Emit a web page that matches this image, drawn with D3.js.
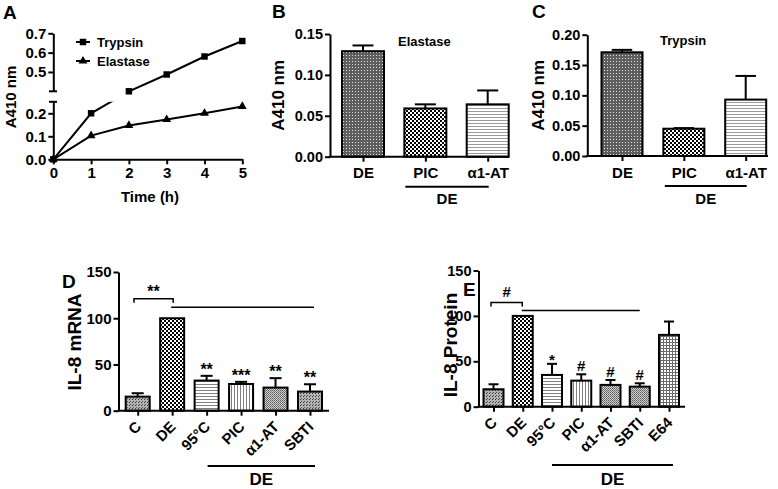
<!DOCTYPE html>
<html><head><meta charset="utf-8">
<script src="https://cdn.jsdelivr.net/npm/d3@7"></script>
<style>
html,body{margin:0;padding:0;background:#fff;}
svg{display:block;}
</style></head><body>
<svg id="chart" width="778" height="489"></svg>
<script>
// ---------------- DATA ----------------
// Panel A: time course
const timeH = [0, 1, 2, 3, 4, 5];
const trypsinA410 = [0, 0.20, 0.40, 0.487, 0.58, 0.66];
const elastaseA410 = [0, 0.103, 0.147, 0.173, 0.20, 0.23];
const seriesNames = ["Trypsin", "Elastase"];
const aYTicksLow = [0, 0.1, 0.2];
const aYTicksHigh = [0.5, 0.6, 0.7];
const aXTicks = [0, 1, 2, 3, 4, 5];

// Panels B & C
const bcCats = ["DE", "PIC", "α1-AT"];
const elastaseMean = [0.129, 0.059, 0.064];
const elastaseSem = [0.007, 0.005, 0.017];
const trypsinMean = [0.171, 0.045, 0.093];
const trypsinSem = [0.004, 0.001, 0.039];
const bYTicks = [0, 0.05, 0.10, 0.15];
const cYTicks = [0, 0.05, 0.10, 0.15, 0.20];

// Panel D
const dCats = ["C", "DE", "95°C", "PIC", "α1-AT", "SBTI"];
const il8mRNA = [15.2, 100, 32.6, 28.9, 25.0, 20.7];
const il8mRNASem = [3.7, 0, 5.1, 2.3, 10.2, 7.9];
const dSig = ["", "", "**", "***", "**", "**"];

// Panel E
const eCats = ["C", "DE", "95°C", "PIC", "α1-AT", "SBTI", "E64"];
const il8Protein = [19.2, 100, 35.0, 28.7, 24.0, 22.1, 79.1];
const il8ProteinSem = [5.5, 0, 12.2, 7.0, 5.4, 3.7, 14.7];
const eSig = ["", "", "*", "#", "#", "#", ""];
const deYTicks = [0, 50, 100, 150];

// ---------------- SETUP ----------------
const FONT = '"Liberation Sans", Arial, Helvetica, sans-serif';
const svg = d3.select("#chart").style("font-family", FONT).style("font-weight", "bold");
const defs = svg.append("defs");

function pattern(id, w, h, bg, rects) {
  const p = defs.append("pattern").attr("id", id).attr("patternUnits", "userSpaceOnUse")
    .attr("width", w).attr("height", h);
  p.append("rect").attr("width", w).attr("height", h).attr("fill", bg);
  rects.forEach(r => p.append("rect").attr("x", r[0]).attr("y", r[1]).attr("width", r[2]).attr("height", r[3]).attr("fill", r[4]));
}
pattern("checker", 4, 4, "#fff", [[0,0,2,2,"#000"],[2,2,2,2,"#000"]]);
pattern("fineDark", 3, 3, "#5e5e5e", [[1,1,1,1,"#e0e0e0"]]);
pattern("hlines", 3, 3, "#fff", [[0,0,3,1,"#9a9a9a"]]);
pattern("hlinesD", 3, 3, "#fff", [[0,0,3,1,"#808080"]]);
pattern("vlines", 3, 3, "#fff", [[0,0,1,3,"#808080"]]);
pattern("dots", 3, 3, "#b4b4b4", [[0,0,1,1,"#333"],[1,2,1,1,"#555"]]);
pattern("dense", 2, 2, "#cfcfcf", [[0,0,1,1,"#5a5a5a"],[1,1,1,1,"#7a7a7a"]]);
pattern("grid", 3, 3, "#fff", [[0,0,3,1,"#6a6a6a"],[0,0,1,3,"#6a6a6a"]]);

function styleAxis(g, fs) {
  g.attr("font-family", null).attr("font-size", null);
  g.selectAll("path.domain").attr("stroke", "#000").attr("stroke-width", 2);
  g.selectAll(".tick line").attr("stroke", "#000").attr("stroke-width", 2);
  g.selectAll(".tick text").attr("fill", "#000").style("font-size", fs + "px")
    .style("font-weight", "bold").style("font-family", FONT);
}
function label(g, txt, x, y, fs, opts = {}) {
  return g.append("text").attr("x", x).attr("y", y).text(txt)
    .style("font-size", fs + "px").attr("text-anchor", opts.anchor || "start")
    .attr("transform", opts.rot ? `rotate(${opts.rot},${x},${y})` : null);
}

// ---------------- PANEL A ----------------
(function () {
  const g = svg.append("g");
  const x = d3.scaleLinear().domain([0, 5]).range([53.3, 242.3]);
  const yLow = d3.scaleLinear().domain([0, 0.25]).range([159.3, 101.8]);
  const yHigh = d3.scaleLinear().domain([0.4, 0.7]).range([91.3, 33.3]);
  const y = v => (v <= 0.25 ? yLow(v) : yHigh(v));

  const cp = defs.append("clipPath").attr("id", "clipA");
  cp.append("rect").attr("x", 40).attr("y", yLow(0.25)).attr("width", 220).attr("height", 70);
  cp.append("rect").attr("x", 40).attr("y", 20).attr("width", 220).attr("height", yHigh(0.4) - 20);

  const ayl = g.append("g").attr("transform", "translate(53.3,0)")
    .call(d3.axisLeft(yLow).tickValues(aYTicksLow).tickFormat(d3.format(".1f")).tickSize(5).tickSizeOuter(0).tickPadding(2));
  styleAxis(ayl, 15);
  const ayh = g.append("g").attr("transform", "translate(53.3,0)")
    .call(d3.axisLeft(yHigh).tickValues(aYTicksHigh).tickFormat(d3.format(".1f")).tickSize(5).tickSizeOuter(0).tickPadding(2));
  styleAxis(ayh, 15);
  [yLow(0.25), yHigh(0.4)].forEach(yy => g.append("line").attr("x1", 49).attr("x2", 57).attr("y1", yy).attr("y2", yy)
    .attr("stroke", "#000").attr("stroke-width", 2));
  const axA = g.append("g").attr("transform", `translate(0,${yLow(0)})`)
    .call(d3.axisBottom(x).tickValues(aXTicks).tickFormat(d3.format("d")).tickSize(5).tickSizeOuter(0).tickPadding(3));
  styleAxis(axA, 15);

  const line = d3.line().x((d, i) => x(timeH[i])).y(d => y(d));
  [trypsinA410, elastaseA410].forEach(s => g.append("path").attr("d", line(s)).attr("fill", "none")
    .attr("stroke", "#000").attr("stroke-width", 2).attr("clip-path", "url(#clipA)"));
  const sq = d3.symbol().type(d3.symbolSquare).size(42);
  const tri = d3.symbol().type(d3.symbolTriangle).size(34);
  trypsinA410.forEach((v, i) => g.append("path").attr("d", sq()).attr("transform", `translate(${x(timeH[i])},${y(v)})`).attr("fill", "#000"));
  elastaseA410.forEach((v, i) => g.append("path").attr("d", tri()).attr("transform", `translate(${x(timeH[i])},${y(v)})`).attr("fill", "#000"));

  // legend
  [[sq, 42], [tri, 61]].forEach((m, i) => {
    g.append("line").attr("x1", 76).attr("x2", 90).attr("y1", m[1]).attr("y2", m[1]).attr("stroke", "#000").attr("stroke-width", 2);
    g.append("path").attr("d", m[0]()).attr("transform", `translate(83,${m[1]})`).attr("fill", "#000");
    label(g, seriesNames[i], 97, m[1] + 4.5, 13);
  });
  label(g, "A410 nm", 16, 97, 15, { anchor: "middle", rot: -90 });
  label(g, "Time (h)", 150, 202, 15, { anchor: "middle" });
  label(g, "A", 3, 19, 19);
})();

// ---------------- BAR PANEL ----------------
function barPanel(p) {
  const g = svg.append("g");
  const y = d3.scaleLinear().domain([0, p.yMax]).range([p.y0, p.y1]);
  const x = d3.scalePoint().domain(p.cats).range([p.c0, p.c1]);
  const ya = g.append("g").attr("transform", `translate(${p.ax},0)`)
    .call(d3.axisLeft(y).tickValues(p.yTicks).tickFormat(p.fmt).tickSize(5).tickSizeOuter(0).tickPadding(2));
  styleAxis(ya, p.tickFs);

  // error bars
  p.cats.forEach((c, i) => {
    if (p.sem[i] > 0) {
      const cx = x(c), yt = y(p.vals[i] + p.sem[i]);
      g.append("line").attr("x1", cx).attr("x2", cx).attr("y1", y(p.vals[i])).attr("y2", yt).attr("stroke", "#000").attr("stroke-width", 2);
      g.append("line").attr("x1", cx - p.bw / 4).attr("x2", cx + p.bw / 4).attr("y1", yt).attr("y2", yt).attr("stroke", "#000").attr("stroke-width", 2);
    }
  });
  // bars
  g.selectAll("rect.bar").data(p.vals).join("rect").attr("class", "bar")
    .attr("x", (d, i) => x(p.cats[i]) - p.bw / 2).attr("width", p.bw)
    .attr("y", d => y(d)).attr("height", d => y(0) - y(d))
    .attr("fill", (d, i) => `url(#${p.pats[i]})`).attr("stroke", "#000").attr("stroke-width", 2);

  // x axis
  g.append("line").attr("x1", p.ax - 1).attr("x2", p.axEnd).attr("y1", y(0)).attr("y2", y(0)).attr("stroke", "#000").attr("stroke-width", 2);
  const xa = g.append("g").attr("transform", `translate(0,${y(0)})`)
    .call(d3.axisBottom(x).tickSize(5).tickSizeOuter(0).tickPadding(p.xPad || 6));
  xa.select(".domain").remove();
  styleAxis(xa, p.xFs);
  if (p.rotate) {
    xa.selectAll(".tick text").attr("x", 0).attr("y", 0).attr("dy", 0).attr("text-anchor", "end")
      .attr("transform", `translate(4,${p.rotY}) rotate(-45)`);
  }

  // significance marks
  if (p.sig) {
    p.cats.forEach((c, i) => {
      if (!p.sig[i]) return;
      const yt = y(p.vals[i] + p.sem[i]);
      label(g, p.sig[i], x(c), yt - p.sigOff(p.sig[i]), p.sigFs, { anchor: "middle" });
    });
  }
  if (p.bracket) {
    const b = p.bracket;
    const by = y(b.y);
    g.append("path").attr("d", `M${x(b.from) + b.dx0},${by + 4}V${by}H${x(b.to) + b.dx1}V${by + 4}`)
      .attr("fill", "none").attr("stroke", "#000").attr("stroke-width", 1.5);
    label(g, b.text, (x(b.from) + b.dx0 + x(b.to) + b.dx1) / 2, by - b.tOff, p.sigFs, { anchor: "middle" });
    const ly = y(b.lineY);
    g.append("line").attr("x1", x(b.to) + b.lx0).attr("x2", x(b.lineTo) + b.lx1).attr("y1", ly).attr("y2", ly)
      .attr("stroke", "#000").attr("stroke-width", 1.5);
  }
  // group underline
  const u = p.under;
  g.append("line").attr("x1", x(u.from) + u.dx0).attr("x2", x(u.to) + u.dx1).attr("y1", u.y).attr("y2", u.y)
    .attr("stroke", "#000").attr("stroke-width", 2);
  label(g, "DE", (x(u.from) + u.dx0 + x(u.to) + u.dx1) / 2, u.ty, u.fs, { anchor: "middle" });

  if (p.inner) label(g, p.inner[0], p.inner[1], p.inner[2], 13);
  label(g, p.title, p.titleX, p.titleY || (p.y0 + p.y1) / 2, p.titleFs, { anchor: "middle", rot: -90 });
  label(g, p.letter, p.letterX, p.letterY, 19);
}

barPanel({
  cats: bcCats, vals: elastaseMean, sem: elastaseSem, pats: ["fineDark", "checker", "hlines"],
  yMax: 0.15, y0: 156.7, y1: 34, c0: 363, c1: 487.7, bw: 42, ax: 330, axEnd: 509,
  yTicks: bYTicks, fmt: d3.format(".2f"), tickFs: 14.5, xFs: 15, xPad: 6,
  under: { from: "PIC", to: "α1-AT", dx0: -20, dx1: 1, y: 186.7, ty: 204, fs: 15 },
  inner: ["Elastase", 398, 46], title: "A410 nm", titleX: 284, titleFs: 17, letter: "B", letterX: 272, letterY: 18
});
barPanel({
  cats: bcCats, vals: trypsinMean, sem: trypsinSem, pats: ["fineDark", "checker", "hlines"],
  yMax: 0.20, y0: 156, y1: 34.7, c0: 622, c1: 745.7, bw: 41, ax: 587.3, axEnd: 768,
  yTicks: cYTicks, fmt: d3.format(".2f"), tickFs: 14.5, xFs: 15, xPad: 6,
  under: { from: "PIC", to: "α1-AT", dx0: -19, dx1: 1, y: 186, ty: 204, fs: 15 },
  inner: ["Trypsin", 660, 45], title: "A410 nm", titleX: 544, titleFs: 17, letter: "C", letterX: 532, letterY: 18
});
barPanel({
  cats: dCats, vals: il8mRNA, sem: il8mRNASem, pats: ["dots", "checker", "hlinesD", "vlines", "dense", "dots"],
  yMax: 150, y0: 410.7, y1: 272, c0: 137.7, c1: 310, bw: 24, ax: 118.5, axEnd: 329,
  yTicks: deYTicks, fmt: d3.format("d"), tickFs: 15, xFs: 15, rotate: true, rotY: 17,
  sig: dSig, sigFs: 16, sigOff: s => 1,
  bracket: { from: "C", to: "DE", dx0: -3.7, dx1: 1, y: 121, text: "**", tOff: 2, lineY: 112, lx0: -1, lineTo: "SBTI", lx1: 4 },
  under: { from: "95°C", to: "SBTI", dx0: 1, dx1: 5, y: 466, ty: 485, fs: 17 },
  title: "IL-8 mRNA", titleX: 81, titleY: 342, titleFs: 19, letter: "D", letterX: 62, letterY: 288
});
barPanel({
  cats: eCats, vals: il8Protein, sem: il8ProteinSem, pats: ["dots", "checker", "hlinesD", "vlines", "dense", "dense", "grid"],
  yMax: 150, y0: 406.7, y1: 270.5, c0: 493.5, c1: 669, bw: 20, ax: 478.5, axEnd: 685,
  yTicks: deYTicks, fmt: d3.format("d"), tickFs: 14.5, xFs: 15, rotate: true, rotY: 17,
  sig: eSig, sigFs: 15, sigOff: s => (s === "#" ? 3 : -1),
  bracket: { from: "C", to: "DE", dx0: -2.5, dx1: -0.5, y: 114.8, text: "#", tOff: 5, lineY: 106, lx0: -1, lineTo: "SBTI", lx1: 0 },
  under: { from: "95°C", to: "E64", dx0: 0, dx1: 4, y: 465, ty: 485, fs: 17 },
  title: "IL-8 Protein", titleX: 457, titleY: 345, titleFs: 19, letter: "E", letterX: 463, letterY: 296
});
</script>
</body></html>
